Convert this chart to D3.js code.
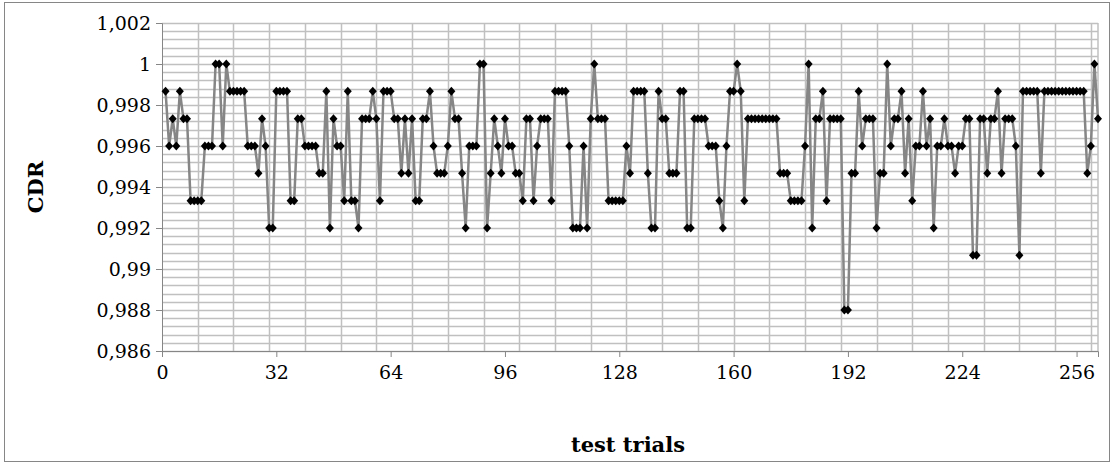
<!DOCTYPE html>
<html><head><meta charset="utf-8">
<script src="https://cdn.jsdelivr.net/npm/d3@7/dist/d3.min.js"></script>
<style>html,body{margin:0;padding:0;background:#fff}</style>
</head><body><svg id="c" width="1115" height="465"></svg>
<script>
// CDR values per trial (levels)
const A=1, B=0.998667, C=0.997333, D=0.996, E=0.994667, F=0.993333, G=0.992, H=0.990667, J=0.988;
const cdr = [
 B,D,C,D,B,C,C,F,F,F, F,D,D,D,A,A,D,A,B,B,
 B,B,B,D,D,D,E,C,D,G, G,B,B,B,B,F,F,C,C,D,
 D,D,D,E,E,B,G,C,D,D, F,B,F,F,G,C,C,C,B,C,
 F,B,B,B,C,C,E,C,E,C, F,F,C,C,B,D,E,E,E,D,
 B,C,C,E,G,D,D,D,A,A, G,E,C,D,E,C,D,D,E,E,
 F,C,C,F,D,C,C,C,F,B, B,B,B,D,G,G,G,D,G,C,
 A,C,C,C,F,F,F,F,F,D, E,B,B,B,B,E,G,G,B,C,
 C,E,E,E,B,B,G,G,C,C, C,C,D,D,D,F,G,D,B,B,
 A,B,F,C,C,C,C,C,C,C, C,C,E,E,E,F,F,F,F,D,
 A,G,C,C,B,F,C,C,C,C, J,J,E,E,B,D,C,C,C,G,
 E,E,A,D,C,C,B,E,C,F, D,D,B,D,C,G,D,D,C,D,
 D,E,D,D,C,C,H,H,C,C, E,C,C,B,E,C,C,C,D,H,
 B,B,B,B,B,E,B,B,B,B, B,B,B,B,B,B,B,B,E,D,
 A,C
];
const trials = cdr.map((v,i)=>i+1);
const xTicks = [0,32,64,96,128,160,192,224,256];
const yTicks = [0.986,0.988,0.99,0.992,0.994,0.996,0.998,1,1.002];
const yLabels = ["0,986","0,988","0,99","0,992","0,994","0,996","0,998","1","1,002"];
const xTitle = "test trials", yTitle = "CDR";

const svg = d3.select("#c");
const L=162, R=1098, T=23, Bt=351;
const x = d3.scaleLinear().domain([0,262]).range([L,R]);
const y = d3.scaleLinear().domain([0.986,1.002]).range([Bt,T]);

svg.append("rect").attr("x",0).attr("y",0).attr("width",1115).attr("height",465).attr("fill","#fff");
svg.append("rect").attr("x",4.5).attr("y",2.5).attr("width",1105).attr("height",459).attr("fill","none").attr("stroke","#868686").attr("stroke-width",1);

const g = svg.append("g");
const minor = d3.range(0,41).map(i=>0.986+i*0.0004);
g.selectAll(".hm").data(minor).join("line")
 .attr("x1",L).attr("x2",R).attr("y1",d=>Math.round(y(d))+0.5).attr("y2",d=>Math.round(y(d))+0.5)
 .attr("stroke","#c0c0c0").attr("stroke-width",1.5);
const vg = d3.range(10,262,10);
g.selectAll(".vg").data(vg).join("line")
 .attr("y1",T).attr("y2",Bt).attr("x1",d=>Math.round(x(d))+0.5).attr("x2",d=>Math.round(x(d))+0.5)
 .attr("stroke","#c0c0c0").attr("stroke-width",1.5);
g.append("line").attr("x1",R).attr("x2",R).attr("y1",T).attr("y2",Bt).attr("stroke","#c0c0c0").attr("stroke-width",1.5);

const yAxis = d3.axisLeft(y).tickValues(yTicks).tickFormat((d,i)=>yLabels[i]).tickSize(6).tickPadding(5);
const ya = svg.append("g").attr("transform",`translate(${L},0)`).call(yAxis);
ya.selectAll("text").attr("font-family","DejaVu Serif").attr("font-size",19).attr("fill","#000");
ya.select(".domain").attr("stroke","#868686");
ya.selectAll(".tick line").attr("stroke","#868686");
const xAxis = d3.axisBottom(x).tickValues(xTicks).tickSize(6).tickPadding(9);
const xa = svg.append("g").attr("transform",`translate(0,${Bt})`).call(xAxis);
xa.selectAll("text").attr("font-family","DejaVu Serif").attr("font-size",19).attr("fill","#000");
xa.select(".domain").attr("stroke","#868686");
xa.selectAll(".tick line").attr("stroke","#868686");

const pts = trials.map((t,i)=>[t,cdr[i]]);
svg.append("path").datum(pts)
 .attr("d",d3.line().x(d=>x(d[0])).y(d=>y(d[1])))
 .attr("fill","none").attr("stroke","#868686").attr("stroke-width",2.5).attr("stroke-linejoin","round");
svg.selectAll(".m").data(pts).join("path")
 .attr("transform",d=>`translate(${x(d[0])},${y(d[1])})`)
 .attr("d","M0,-4.5L4,0L0,4.5L-4,0Z").attr("fill","#000");

svg.append("text").attr("x",628).attr("y",452).attr("text-anchor","middle")
 .attr("font-family","DejaVu Serif").attr("font-weight","bold").attr("font-size",21).text(xTitle);
svg.append("text").attr("transform",`translate(43,${(T+Bt)/2}) rotate(-90)`).attr("text-anchor","middle")
 .attr("font-family","DejaVu Serif").attr("font-weight","bold").attr("font-size",21).text(yTitle);
</script></body></html>
